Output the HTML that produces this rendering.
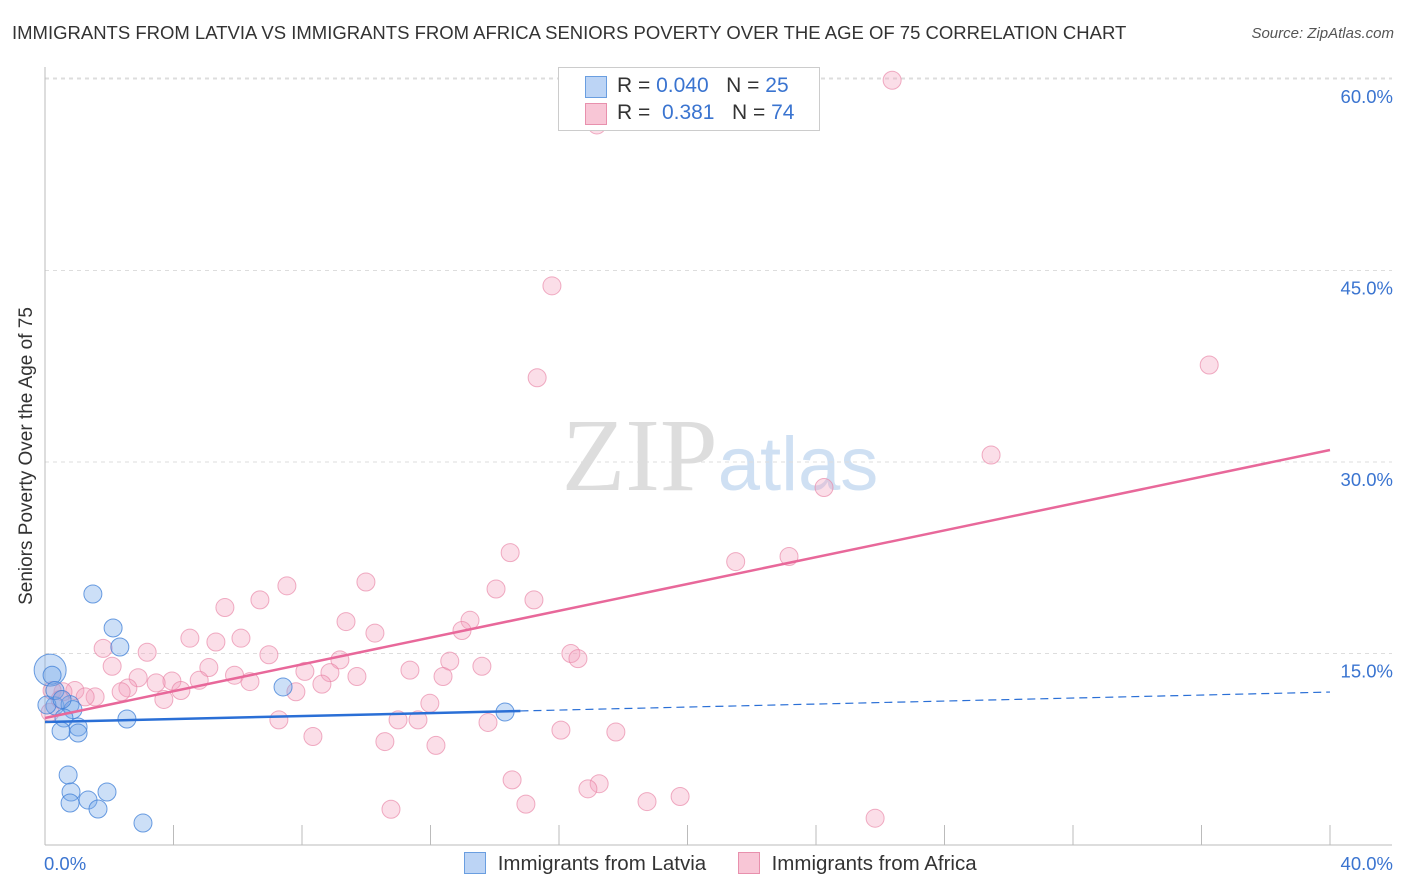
<!DOCTYPE html>
<html><head><meta charset="utf-8"><style>
body{margin:0;background:#fff;font-family:"Liberation Sans",sans-serif;}
#wrap{position:relative;width:1406px;height:892px;overflow:hidden;}
.t{position:absolute;white-space:nowrap;}
</style></head><body>
<div id="wrap">
<div class="t" style="left:12px;top:22px;font-size:18.5px;color:#333;">IMMIGRANTS FROM LATVIA VS IMMIGRANTS FROM AFRICA SENIORS POVERTY OVER THE AGE OF 75 CORRELATION CHART</div>
<div class="t" style="right:12px;top:25px;font-size:15px;color:#555;font-style:italic;">Source: ZipAtlas.com</div>
<div class="t" style="left:27px;top:456px;font-size:19px;color:#333;transform:translate(-50%,-50%) rotate(-90deg);">Seniors Poverty Over the Age of 75</div>
<svg id="svg" width="1406" height="892" style="position:absolute;left:0;top:0;">
<text x="720" y="490" text-anchor="middle" font-family="Liberation Serif,serif" font-size="104" fill="#ddd">ZIP<tspan font-family="Liberation Sans,sans-serif" font-size="76" fill="#cfe0f3">atlas</tspan></text>
</svg>
<div style="position:absolute;left:558px;top:67px;width:260px;height:62px;border:1px solid #ccc;background:#fff;font-size:21px;">
 <div style="position:absolute;left:26px;top:8px;width:20px;height:20px;background:#bcd4f5;border:1px solid #6a9ee0;"></div>
 <div class="t" style="left:58px;top:6px;color:#333;">R = <span style="color:#3a74d0">0.040</span> &nbsp;&nbsp;N = <span style="color:#3a74d0">25</span></div>
 <div style="position:absolute;left:26px;top:35px;width:20px;height:20px;background:#f8c6d6;border:1px solid #e890ad;"></div>
 <div class="t" style="left:58px;top:33px;color:#333;">R = &nbsp;<span style="color:#3a74d0">0.381</span> &nbsp;&nbsp;N = <span style="color:#3a74d0">74</span></div>
</div>
<div style="position:absolute;left:464px;top:852px;font-size:20.5px;color:#333;">
 <span style="display:inline-block;width:20px;height:20px;background:#bcd4f5;border:1px solid #6a9ee0;vertical-align:-4px;"></span>
 <span style="margin-left:6px;">Immigrants from Latvia</span>
 <span style="display:inline-block;width:20px;height:20px;background:#f8c6d6;border:1px solid #e890ad;vertical-align:-4px;margin-left:26px;"></span>
 <span style="margin-left:6px;">Immigrants from Africa</span>
</div>
</div>
<script>
const xTicks=[0,40];
const yTicks=[15,30,45,60];
const latviaX=[1.49,2.12,2.33,0.16,0.22,0.31,0.06,0.78,0.87,0.59,2.55,1.03,1.03,0.5,7.41,14.32,0.72,0.81,0.78,1.34,1.93,1.65,3.05,0.31,0.53];
const latviaY=[19.66,17.0,15.51,13.7,13.3,10.9,10.97,11.0,10.6,9.95,9.87,9.24,8.77,8.93,12.38,10.42,5.48,4.15,3.29,3.52,4.15,2.82,1.72,12.1,11.4];
const africaX=[26.37,17.18,15.78,15.32,36.24,29.45,24.25,23.16,21.5,14.48,9.99,14.04,7.53,6.69,15.22,5.6,9.37,13.23,12.98,10.27,4.51,6.1,5.32,1.81,3.18,6.97,9.18,16.37,16.59,12.6,13.6,2.09,5.1,11.36,8.09,8.87,5.9,12.39,9.71,2.9,4.8,6.38,3.95,3.46,8.62,4.23,2.58,2.37,7.81,0.93,0.56,1.56,1.25,0.22,3.7,0.47,11.98,7.28,10.99,11.61,13.79,16.06,17.77,8.34,10.58,12.17,14.54,17.25,16.9,10.77,14.97,18.74,19.77,25.84,0.16];
const africaY=[59.9,56.4,43.8,36.6,37.6,30.55,28.0,22.6,22.2,22.9,20.6,20.05,20.3,19.2,19.2,18.6,17.5,17.6,16.8,16.6,16.2,16.2,15.9,15.4,15.1,14.9,14.5,15.0,14.6,14.4,14.0,14.0,13.9,13.7,13.6,13.5,13.3,13.2,13.2,13.1,12.9,12.8,12.85,12.7,12.6,12.1,12.3,12.0,12.0,12.1,12.0,11.6,11.6,12.1,11.4,11.4,11.1,9.8,9.8,9.8,9.6,9.0,8.85,8.5,8.1,7.8,5.1,4.8,4.4,2.8,3.2,3.4,3.8,2.1,10.4];
const latviaTrend=[9.63,11.98];
const africaTrend=[9.95,30.94];
const X0=45,X1=1330,Y0=845,PPY=191.5/15;
const sx=v=>X0+(X1-X0)*v/40, sy=v=>Y0-v*PPY;
const svg=document.getElementById('svg');
const NS='http://www.w3.org/2000/svg';
function mk(tag,attrs){const e=document.createElementNS(NS,tag);for(const k in attrs)e.setAttribute(k,attrs[k]);svg.appendChild(e);return e;}
yTicks.forEach(v=>{
 const g=mk('line',{x1:X0,x2:1392,y1:sy(v),y2:sy(v),stroke:'#ddd','stroke-dasharray':'4,4'});
 
 
 const t=mk('text',{x:1393,y:sy(v)+24,'text-anchor':'end','font-size':18.5,fill:'#3a74d0','font-family':'Liberation Sans,sans-serif'});
 t.textContent=v.toFixed(1)+'%';
 
 
});
const topG=mk('line',{x1:X0,x2:1392,y1:78,y2:78,stroke:'#ddd','stroke-dasharray':'4,4'});


const ya=mk('line',{x1:X0,x2:X0,y1:67,y2:Y0,stroke:'#bbb'});


const xa=mk('line',{x1:X0,x2:1392,y1:Y0,y2:Y0,stroke:'#bbb'});


for(let i=1;i<=10;i++){
 const tk=mk('line',{x1:sx(i*4),x2:sx(i*4),y1:825,y2:Y0,stroke:'#bbb'});
 
 
}
xTicks.forEach((v,i)=>{
 const t=mk('text',{x:i==0?44:1393,y:870,'text-anchor':i==0?'start':'end','font-size':18.5,fill:'#3a74d0','font-family':'Liberation Sans,sans-serif'});
 t.textContent=v.toFixed(1)+'%';
 
 
});
africaX.forEach((x,i)=>{
 const c=mk('circle',{cx:sx(x),cy:sy(africaY[i]),r:9,fill:'rgba(244,160,190,0.35)',stroke:'rgba(232,130,165,0.65)','stroke-width':1});
 
 
});
latviaX.forEach((x,i)=>{
 const c=mk('circle',{cx:sx(x),cy:sy(latviaY[i]),r:i==3?16:9,fill:'rgba(120,170,235,0.38)',stroke:'rgba(60,125,215,0.75)','stroke-width':1});
 
 
});
const lx=14.8;
const lt1=mk('line',{x1:sx(0),y1:sy(latviaTrend[0]),x2:sx(lx),y2:sy(latviaTrend[0]+(latviaTrend[1]-latviaTrend[0])*lx/40),stroke:'#2a6fd6','stroke-width':2.5});


const lt2=mk('line',{x1:sx(lx),y1:sy(latviaTrend[0]+(latviaTrend[1]-latviaTrend[0])*lx/40),x2:sx(40),y2:sy(latviaTrend[1]),stroke:'#2a6fd6','stroke-width':1.2,'stroke-dasharray':'8,5'});


const at=mk('line',{x1:sx(0),y1:sy(africaTrend[0]),x2:sx(40),y2:sy(africaTrend[1]),stroke:'#e8689a','stroke-width':2.5});


</script>
</body></html>
